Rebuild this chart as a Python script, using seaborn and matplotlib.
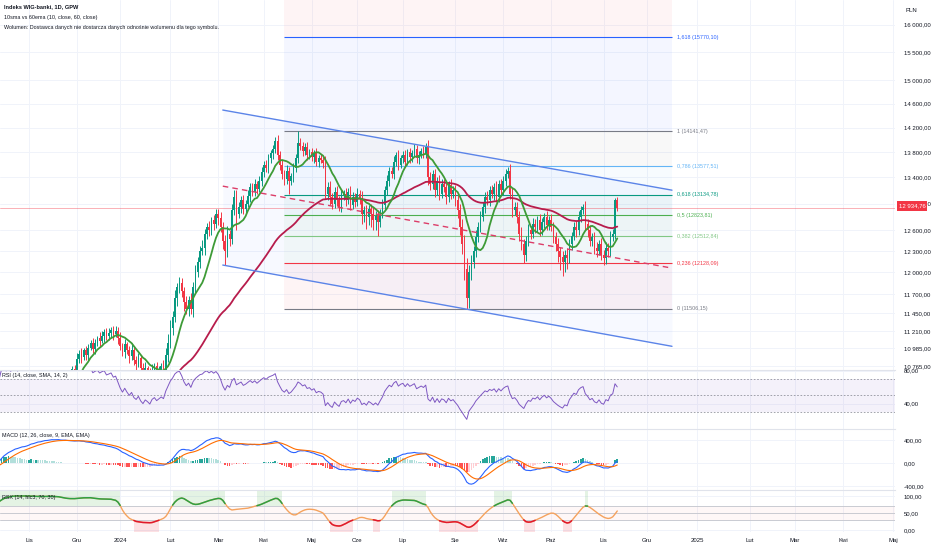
import numpy as np
import pandas as pd
import matplotlib
matplotlib.use("Agg")
import matplotlib.pyplot as plt
import seaborn as sns

sns.set_theme(style="white")
plt.rcParams["font.family"] = ["Liberation Sans", "DejaVu Sans"]

# closes before the visible window (Sep 1 - Oct 13 2023), only used to warm up the indicators
warmup_close = [8650, 8680, 8600, 8520, 8460, 8400, 8340, 8290, 8320, 8260,
                8200, 8130, 8080, 8120, 8060, 8000, 8030, 7980, 7950, 8010,
                8080, 8120, 8170, 8220, 8190, 8280, 8350, 8400, 8460, 8520, 8580]

# daily closes, Oct 16 2023 - Nov 13 2024
close = [8980, 9050, 9010, 9120, 9090, 9210, 9280, 9240, 9360, 9420, 9390, 9520,
         9650, 9780, 9740, 9890, 9960, 9930, 10080, 10170, 10140, 10260, 10340, 10310,
         10400, 10460, 10420, 10520, 10600, 10570, 10660, 10730, 10720,
         10850, 10920, 10880, 10960, 10900, 10990, 11050, 10980, 11060, 11120, 11080, 11150,
         11200, 11140, 11180, 11230, 11170, 11210, 11120,
         11020, 10940, 11040, 10960, 10890, 10960, 10840, 10790, 10860, 10740, 10660, 10740,
         10690, 10620, 10720, 10760, 10680, 10720, 10760, 10720, 10900, 11050,
         11250, 11400, 11650, 11800, 11850, 11750, 11600, 11500, 11620, 11500, 11800, 12000,
         12150, 12300, 12350, 12550, 12650, 12600, 12750, 12700, 12850,
         12780, 12650, 12450, 12300, 12550, 12480, 12900, 13100, 12850, 12950, 13050, 12920,
         13000, 13120, 13250, 13180, 13300, 13220, 13350, 13480,
         13600, 13550, 13700, 13780, 13850, 13980, 13750, 13600, 13450, 13380, 13500, 13350,
         13420, 13550, 13700, 13950, 13900, 13820, 13880, 13760, 13800,
         13720, 13780, 13650, 13700, 13680, 13620, 13150, 13250, 13100, 13000, 13180, 13050,
         12950, 13120, 13150, 13050, 13180, 12980, 13100, 13030,
         13150, 13080, 12850, 12900, 12800, 12920, 12850, 12760, 12820, 12720, 12850, 12980,
         13200, 13350, 13500, 13450, 13650, 13750, 13600, 13700,
         13750, 13650, 13800, 13720, 13780, 13850, 13700, 13760, 13820, 13780, 13880, 13400,
         13300, 13450, 13200, 13350, 13150, 13300, 13250, 13100, 13280, 13150, 13200,
         13050, 12900, 12650, 12400, 12050, 11650, 12000, 12150, 12300, 12500, 12650, 12800,
         12950, 13100, 13050, 13200, 13150, 13250, 13100, 13300, 13200,
         13350, 13450, 13500, 13150, 12900, 12950, 12800, 12550, 12400, 12250, 12450, 12600,
         12550, 12700, 12650, 12750, 12600, 12720, 12800, 12680, 12750,
         12650, 12500, 12400, 12300, 12220, 12150, 12250, 12200, 12400, 12520, 12650, 12600,
         12800, 12900, 12950, 12700, 12600, 12450, 12500, 12350, 12300, 12400, 12250,
         12200, 12350, 12300, 12500, 12550, 13050, 12934.76]

upper_wick = [60, 40, 70, 30, 50, 80, 40, 60, 30, 70, 50, 40, 90, 60, 30, 70, 50, 40, 80, 60,
              30, 50, 70, 40, 60, 80, 30, 50, 40, 70, 60, 30, 50, 80, 40, 70, 30, 60, 50, 40,
              70, 50, 30, 80, 60, 40, 50, 70, 30, 40, 60, 50, 80, 40, 70, 30, 60, 90, 40, 50,
              70, 40, 60, 80, 30, 50, 70, 40, 60, 50, 40, 80, 90, 120, 100, 80, 110, 60, 90, 70,
              50, 80, 60, 90, 70, 100, 60, 80, 110, 70, 60, 90, 50, 80, 70, 60, 90, 70, 80, 120,
              60, 90, 110, 100, 70, 60, 80, 50, 90, 70, 60, 80, 50, 70, 90, 60, 80, 70, 50, 60,
              60, 90, 70, 80, 60, 90, 70, 50, 80, 70, 191, 80, 60, 70, 90, 50, 70, 60, 80, 50,
              70, 60, 120, 80, 90, 60, 70, 80, 60, 90, 50, 80, 60, 90, 70, 60, 80, 50, 110, 70,
              80, 60, 70, 90, 60, 80, 70, 90, 60, 80, 70, 60, 80, 50, 90, 60, 70, 80, 50, 70,
              60, 80, 70, 60, 50, 80, 70, 120, 90, 70, 80, 60, 90, 70, 80, 60, 70, 90, 60, 80,
              100, 90, 120, 130, 150, 110, 90, 80, 100, 70, 90, 80, 70, 90, 60, 80, 70, 90, 60, 80,
              70, 80, 60, 110, 90, 70, 80, 90, 100, 80, 70, 90, 60, 80, 70, 60, 90, 70, 60, 80,
              70, 90, 80, 70, 90, 60, 80, 70, 90, 80, 60, 70, 90, 80, 60, 50, 90, 70, 80, 60,
              70, 80, 60, 90, 70, 80, 60, 90, 70, 30, 50]

lower_wick = [50, 70, 40, 60, 30, 50, 80, 40, 60, 30, 70, 40, 60, 50, 80, 30, 60, 40, 50, 70,
              40, 60, 30, 80, 50, 40, 70, 60, 30, 50, 60, 40, 70, 30, 50, 80, 40, 60, 70, 30,
              50, 70, 40, 60, 30, 80, 50, 40, 60, 70, 40, 80, 60, 50, 70, 40, 90, 50, 60, 80,
              40, 70, 60, 50, 80, 40, 60, 70, 50, 40, 60, 50, 70, 80, 60, 90, 70, 110, 80, 90,
              120, 70, 90, 60, 100, 80, 70, 90, 60, 100, 70, 80, 60, 90, 70, 100, 80, 120, 200, 90,
              110, 80, 70, 250, 60, 90, 70, 80, 60, 90, 70, 60, 80, 50, 90, 70, 60, 80, 70, 90,
              60, 80, 90, 70, 100, 80, 200, 70, 90, 60, 80, 70, 90, 60, 80, 70, 60, 90, 70, 80,
              60, 70, 80, 90, 120, 80, 70, 90, 60, 80, 70, 90, 60, 80, 70, 90, 60, 80, 150, 120,
              180, 120, 200, 150, 160, 200, 70, 60, 80, 70, 90, 60, 80, 70, 90, 60, 80, 70, 60, 90,
              70, 60, 80, 90, 60, 70, 80, 110, 90, 80, 100, 70, 90, 60, 80, 100, 70, 80, 60, 90,
              120, 110, 140, 150, 144, 130, 100, 90, 80, 70, 80, 60, 90, 70, 80, 60, 90, 70, 80, 60,
              70, 90, 60, 80, 100, 70, 90, 110, 80, 120, 90, 70, 80, 60, 90, 70, 80, 60, 90, 70,
              80, 60, 90, 100, 150, 180, 200, 150, 150, 70, 80, 60, 90, 70, 80, 60, 90, 100, 80, 70,
              90, 80, 60, 70, 100, 80, 90, 70, 60, 80, 40]

gpw_holidays = ["2023-11-01", "2023-12-25", "2023-12-26", "2024-01-01", "2024-03-29",
                "2024-04-01", "2024-05-01", "2024-05-03", "2024-05-30", "2024-08-15",
                "2024-11-01", "2024-11-11"]
month_names = ["Sty", "Lut", "Mar", "Kwi", "Maj", "Cze", "Lip", "Sie", "Wrz", "Paź", "Lis", "Gru"]

price_ticks = [16000, 15500, 15000, 14600, 14200, 13800, 13400, 13000, 12600, 12300,
               12000, 11700, 11450, 11210, 10985, 10765]
rsi_ticks = [40, 80]
macd_ticks = [-400, 0, 400]
rsx_ticks = [0, 50, 100]

# drawings
fib_dates = ["2024-04-15", "2024-12-17"]
fib_high, fib_low = 14141.47, 11506.15
fib_levels = [0, 0.236, 0.382, 0.5, 0.618, 0.786, 1, 1.618, 2.618]
fib_colors = ["#787B86", "#F23645", "#81C784", "#4CAF50", "#089981", "#64B5F6",
              "#787B86", "#2962FF", "#F23645"]
channel_dates = ["2024-03-05", "2024-12-17"]
channel_upper = [14491, 13203]
channel_lower = [12103, 11013]
channel_mid = [13265, 12060]

# ---- calendar ----
n_warm = len(warmup_close)
hist_dates = pd.bdate_range("2023-09-01", periods=n_warm + len(close), freq="C",
                            holidays=gpw_holidays)
future_dates = pd.bdate_range(hist_dates[-1] + pd.Timedelta(days=1), "2025-05-09")
all_dates = hist_dates.append(future_dates)
pos_of = {d: i for i, d in enumerate(all_dates)}


def pos(d):
    return pos_of[pd.Timestamp(d)]


# ---- candles + indicators ----
full_close = pd.Series(warmup_close + close, dtype=float)
x_full = np.arange(len(full_close))
c = np.array(close, dtype=float)
o = full_close.shift(1).iloc[n_warm:].to_numpy()
h = np.maximum(o, c) + np.array(upper_wick)
l = np.minimum(o, c) - np.array(lower_wick)
x = np.arange(n_warm, n_warm + len(close))

sma10 = full_close.rolling(10, min_periods=1).mean()
ema60 = full_close.ewm(span=60, adjust=False).mean()

delta = full_close.diff().fillna(0)
gain = delta.clip(lower=0).ewm(alpha=1 / 14, adjust=False).mean()
loss = (-delta.clip(upper=0)).ewm(alpha=1 / 14, adjust=False).mean()
rsi = 100 - 100 / (1 + gain / loss.replace(0, np.nan))
rsi = rsi.fillna(50)

macd = full_close.ewm(span=12, adjust=False).mean() - full_close.ewm(span=26, adjust=False).mean()
signal = macd.ewm(span=9, adjust=False).mean()
hist = (macd - signal).to_numpy()
hist_prev = np.r_[hist[0], hist[:-1]]
hist_col = np.where(hist >= 0,
                    np.where(hist > hist_prev, "#26A69A", "#B2DFDB"),
                    np.where(hist < hist_prev, "#FF5252", "#FFCDD2"))


def rsx_calc(src, length=14):
    f18 = 3.0 / (length + 2)
    f20 = 1 - f18
    s = [0.0] * 12
    out = []
    prev = src[0] * 100
    for v in src:
        v = v * 100
        v8 = v - prev
        prev = v
        s[0] = f20 * s[0] + f18 * v8
        s[1] = f18 * s[0] + f20 * s[1]
        vc = s[0] * 1.5 - s[1] * 0.5
        s[2] = f20 * s[2] + f18 * vc
        s[3] = f18 * s[2] + f20 * s[3]
        v10 = s[2] * 1.5 - s[3] * 0.5
        s[4] = f20 * s[4] + f18 * v10
        s[5] = f18 * s[4] + f20 * s[5]
        v14 = s[4] * 1.5 - s[5] * 0.5
        s[6] = f20 * s[6] + f18 * abs(v8)
        s[7] = f18 * s[6] + f20 * s[7]
        v18 = s[6] * 1.5 - s[7] * 0.5
        s[8] = f20 * s[8] + f18 * v18
        s[9] = f18 * s[8] + f20 * s[9]
        v1c = s[8] * 1.5 - s[9] * 0.5
        s[10] = f20 * s[10] + f18 * v1c
        s[11] = f18 * s[10] + f20 * s[11]
        v20 = s[10] * 1.5 - s[11] * 0.5
        r = (v14 / v20 + 1) * 50 if v20 > 0 else 50
        out.append(min(max(r, 0), 100))
    return np.array(out)


hlc3 = np.r_[np.array(warmup_close, dtype=float), (h + l + c) / 3]
rsx = rsx_calc(hlc3)


def pl(v):
    return f"{v:,.2f}".replace(",", " ").replace(".", ",")


# ---- figure ----
fig = plt.figure(figsize=(9.32, 5.5), dpi=100)
W = 895 / 932
TS = 4.3   # axis label size
tc = "#131722"


def pane(top, bottom, share=None):
    return fig.add_axes([0, 1 - bottom / 550, W, (bottom - top) / 550], sharex=share)


ax = pane(0, 370)
ax_rsi = pane(370, 429, ax)
ax_macd = pane(429, 490, ax)
ax_rsx = pane(490, 532, ax)

x0 = pos("2023-11-02")
months = pd.Series(all_dates).dt.to_period("M")
tick_pos = np.flatnonzero((~months.duplicated()).to_numpy())
tick_lab = [str(d.year) if d.month == 1 else month_names[d.month - 1] for d in all_dates[tick_pos]]

for a in (ax, ax_rsi, ax_macd, ax_rsx):
    a.set_facecolor("white")
    for sp in a.spines.values():
        sp.set_visible(False)
    a.set_xticks(tick_pos)
    a.yaxis.tick_right()
    a.tick_params(axis="both", length=0, labelsize=TS, colors=tc, pad=6.5)
    a.tick_params(axis="x", labelbottom=False)
    a.grid(True, color="#F0F3FA", lw=0.7)
    a.set_axisbelow(True)
for a in (ax_rsi, ax_macd, ax_rsx):
    a.spines["top"].set_visible(True)
    a.spines["top"].set_color("#E0E3EB")
    a.spines["top"].set_linewidth(0.8)
ax.set_xlim(x0 - 12.7, x0 + 379.8)

# main pane
ax.set_yscale("log")
ax.set_ylim(10714, 16467)
ax.yaxis.set_major_locator(matplotlib.ticker.FixedLocator(price_ticks))
ax.yaxis.set_minor_locator(matplotlib.ticker.NullLocator())
ax.yaxis.set_major_formatter(matplotlib.ticker.FuncFormatter(lambda v, p: pl(v)))

# fibonacci retracement
fx0, fx1 = pos(fib_dates[0]), pos(fib_dates[1])
fib_prices = [fib_low + lv * (fib_high - fib_low) for lv in fib_levels]
for k in range(1, len(fib_levels)):
    ax.fill_between([fx0, fx1], fib_prices[k - 1], fib_prices[k], color=fib_colors[k],
                    alpha=0.05, lw=0, zorder=1)
for lv, p, col in zip(fib_levels, fib_prices, fib_colors):
    ax.hlines(p, fx0, fx1, color=col, lw=0.8, zorder=2)
    ax.annotate(f"{lv:g} ({p:.2f})".replace(".", ","), xy=(fx1, p), xytext=(3.5, 0),
                textcoords="offset points", fontsize=3.9, color=col, va="center",
                annotation_clip=True)

# parallel channel
cx = [pos(d) for d in channel_dates]
ax.fill_between(cx, channel_lower, channel_upper, color="#2962FF", alpha=0.035, lw=0, zorder=1)
ax.plot(cx, channel_upper, color="#5B84E8", lw=1.0, zorder=5)
ax.plot(cx, channel_lower, color="#5B84E8", lw=1.0, zorder=5)
ax.plot(cx, channel_mid, color="#DC3D68", lw=1.0, dashes=(4, 3), zorder=5)

# candles
up = c >= o
col = np.where(up, "#089981", "#F23645")
ax.vlines(x, l, h, colors=col, lw=0.7, zorder=3)
ax.bar(x, np.maximum(np.abs(c - o), 8), bottom=np.minimum(o, c), width=0.72,
       color=col, lw=0, zorder=3)

sns.lineplot(x=x_full, y=ema60.to_numpy(), ax=ax, color="#B71C4C", lw=1.3, zorder=4)
sns.lineplot(x=x_full, y=sma10.to_numpy(), ax=ax, color="#3E9B37", lw=1.3, zorder=4)
ax.axhline(c[-1], color="#F23645", lw=0.6, alpha=0.45, zorder=2)
ax.set_xlabel("")
ax.set_ylabel("")

# RSI pane
ax_rsi.set_ylim(9.4, 80.9)
ax_rsi.set_yticks(rsi_ticks)
ax_rsi.yaxis.set_major_formatter(matplotlib.ticker.FuncFormatter(lambda v, p: pl(v)))
ax_rsi.axhspan(30, 70, color="#7E57C2", alpha=0.08, lw=0)
for lv in (70, 50, 30):
    ax_rsi.axhline(lv, color="#787B86", lw=0.6, ls=(0, (2, 2)), alpha=0.8)
sns.lineplot(x=x_full, y=rsi.to_numpy(), ax=ax_rsi, color="#7E57C2", lw=0.7)

# MACD pane
ax_macd.set_ylim(-470, 591)
ax_macd.set_yticks(macd_ticks)
ax_macd.yaxis.set_major_formatter(matplotlib.ticker.FuncFormatter(lambda v, p: pl(v)))
ax_macd.bar(x_full, hist, width=0.7, color=hist_col, lw=0)
sns.lineplot(x=x_full, y=macd.to_numpy(), ax=ax_macd, color="#2962FF", lw=0.8)
sns.lineplot(x=x_full, y=signal.to_numpy(), ax=ax_macd, color="#FF6D00", lw=0.8)

# RSX pane
ax_rsx.set_ylim(-5.9, 117.6)
ax_rsx.set_yticks(rsx_ticks)
ax_rsx.yaxis.set_major_formatter(matplotlib.ticker.FuncFormatter(lambda v, p: pl(v)))
ax_rsx.axhspan(30, 70, color="#F23645", alpha=0.04, lw=0)
for lv in (70, 50, 30):
    ax_rsx.axhline(lv, color="#C9CBD2", lw=0.7)
ax_rsx.fill_between(x_full, 70, 117.6, where=rsx > 70, color="#4CAF50", alpha=0.15, lw=0)
ax_rsx.fill_between(x_full, -5.9, 30, where=rsx < 30, color="#F23645", alpha=0.15, lw=0)
sns.lineplot(x=x_full, y=rsx, ax=ax_rsx, color="#F5A25D", lw=1.0)
ax_rsx.plot(x_full, np.where(rsx > 70, rsx, np.nan), color="#2EA043", lw=1.1)
ax_rsx.plot(x_full, np.where(rsx < 30, rsx, np.nan), color="#E0182D", lw=1.1)
ax_rsx.tick_params(axis="x", labelbottom=True, pad=4)
ax_rsx.set_xticklabels(tick_lab)
for a in (ax_rsi, ax_macd, ax_rsx):
    a.set_xlabel("")
    a.set_ylabel("")

# texts
fig.text(4 / 932, 1 - 7 / 550, "Indeks WIG-banki, 1D, GPW", fontsize=4.1, weight="bold",
         color=tc, va="center")
fig.text(4 / 932, 1 - 17 / 550, "10sma vs 60ema (10, close, 60, close)", fontsize=3.9,
         color=tc, va="center")
fig.text(4 / 932, 1 - 27 / 550,
         "Wolumen: Dostawca danych nie dostarcza danych odnośnie wolumenu dla tego symbolu.",
         fontsize=3.9, color=tc, va="center")
fig.text(2 / 932, 1 - 376 / 550, "RSI (14, close, SMA, 14, 2)", fontsize=3.9, color=tc,
         va="center")
fig.text(2 / 932, 1 - 436 / 550, "MACD (12, 26, close, 9, EMA, EMA)", fontsize=3.9, color=tc,
         va="center")
fig.text(2 / 932, 1 - 498 / 550, "RSX (14, hlc3, 70, 30)", fontsize=3.9, color=tc, va="center")
fig.text(905 / 932, 1 - 10 / 550, "PLN", fontsize=TS, color=tc, va="center")
fig.text(912 / 932, 1 - 206 / 550, pl(c[-1]), fontsize=TS, color="white", ha="center",
         va="center", zorder=10,
         bbox=dict(boxstyle="square,pad=0.35", fc="#F23645", ec="none"))

fig.savefig("out.png", dpi=100)
